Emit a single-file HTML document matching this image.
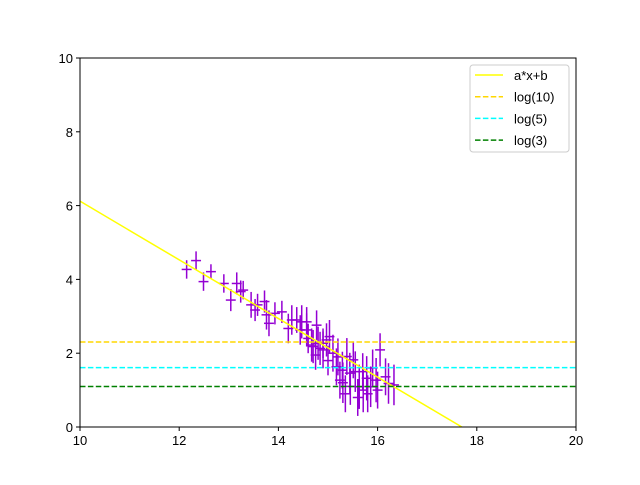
<!DOCTYPE html>
<html><head><meta charset="utf-8"><style>
body{margin:0;background:#fff;}
svg text{font-family:"Liberation Sans","DejaVu Sans",sans-serif;font-size:13px;fill:#000;}
</style></head><body>
<svg id="chart" width="640" height="480" xmlns="http://www.w3.org/2000/svg">
<rect width="640" height="480" fill="#fff"/>
<g id="marks"></g>
<g id="axes"></g>
</svg>
<script>
const xTicks=[10,12,14,16,18,20];
const yTicks=[0,2,4,6,8,10];
const pointX=[12.15,12.34,12.49,12.64,12.9,13.04,13.16,13.24,13.29,13.45,13.53,13.58,13.72,13.76,13.81,13.93,14.07,14.2,14.27,14.37,14.44,14.47,14.57,14.57,14.6,14.67,14.7,14.75,14.77,14.8,14.84,14.9,14.9,14.97,15.0,15.03,15.1,15.17,15.2,15.24,15.29,15.3,15.35,15.38,15.44,15.45,15.51,15.55,15.6,15.63,15.7,15.71,15.78,15.8,15.86,15.9,15.97,16.0,16.05,16.16,16.22,16.33];
const pointY=[4.27,4.51,3.94,4.21,3.89,3.44,3.89,3.67,3.71,3.31,3.17,3.31,3.40,3.04,2.81,3.08,3.12,2.67,2.9,2.9,2.63,2.85,2.85,2.63,2.4,2.22,2.18,1.95,2.76,2.27,2.13,2.27,2.09,2.36,1.8,2.45,2.0,1.63,1.9,1.27,1.54,1.2,0.9,1.91,1.46,1.1,1.82,1.5,0.8,1.09,1.5,1.0,1.32,0.9,1.09,1.6,1.27,1.0,2.09,1.36,1.18,1.14];
const yErr=[0.25,0.25,0.25,0.2,0.25,0.3,0.3,0.3,0.25,0.35,0.3,0.3,0.3,0.4,0.35,0.3,0.3,0.4,0.4,0.35,0.4,0.45,0.4,0.45,0.4,0.45,0.45,0.4,0.4,0.45,0.45,0.4,0.5,0.45,0.4,0.45,0.5,0.5,0.5,0.5,0.5,0.55,0.5,0.5,0.55,0.5,0.5,0.55,0.5,0.6,0.5,0.6,0.6,0.5,0.55,0.5,0.6,0.5,0.45,0.5,0.55,0.55];
const xErr=0.1;
const fitA=-0.795, fitB=14.07;
const hLines=[{name:"log(10)",v:2.303,c:"#ffd700"},{name:"log(5)",v:1.609,c:"#00ffff"},{name:"log(3)",v:1.099,c:"#008000"}];
const X0=80,X1=576,Y0=427,Y1=58;
const sx=v=>X0+(v-10)/10*(X1-X0);
const sy=v=>Y0-(v-0)/10*(Y0-Y1);
const NS="http://www.w3.org/2000/svg";
const marks=document.getElementById('marks');
const axes=document.getElementById('axes');
function mk(tag,attrs,parent){const e=document.createElementNS(NS,tag);for(const k in attrs)e.setAttribute(k,attrs[k]);parent.appendChild(e);return e;}
const clip=mk('clipPath',{id:'cp'},marks);mk('rect',{x:X0,y:Y1,width:X1-X0,height:Y0-Y1},clip);
const plot=mk('g',{'clip-path':'url(#cp)'},marks);
// error bars
pointX.forEach((x,i)=>{
  const g=mk('g',{stroke:'#9400d3','stroke-width':1.5},plot);
  
  
  mk('line',{x1:sx(x),x2:sx(x),y1:sy(pointY[i]-yErr[i]),y2:sy(pointY[i]+yErr[i])},g);
  mk('line',{x1:sx(x-xErr),x2:sx(x+xErr),y1:sy(pointY[i]),y2:sy(pointY[i])},g);
});
// fit line
const fl=mk('line',{x1:sx(10),y1:sy(fitA*10+fitB),x2:sx(20),y2:sy(fitA*20+fitB),stroke:'#ffff00','stroke-width':1.5},plot);


hLines.forEach(h=>{
  const l=mk('line',{x1:X0,x2:X1,y1:sy(h.v),y2:sy(h.v),stroke:h.c,'stroke-width':1.5,'stroke-dasharray':'5.5,2.4'},plot);
  
  
});
// axes frame
const fr=mk('rect',{x:X0,y:Y1,width:X1-X0,height:Y0-Y1,fill:'none',stroke:'#000','stroke-width':1},axes);


xTicks.forEach(t=>{
  mk('line',{x1:sx(t),x2:sx(t),y1:Y0,y2:Y0+4,stroke:'#000'},axes);
  const tx=mk('text',{x:sx(t),y:Y0+18,'text-anchor':'middle'},axes);tx.textContent=t;
  
  
});
yTicks.forEach(t=>{
  mk('line',{x1:X0-4,x2:X0,y1:sy(t),y2:sy(t),stroke:'#000'},axes);
  const tx=mk('text',{x:X0-7,y:sy(t)+5,'text-anchor':'end'},axes);tx.textContent=t;
  
  
});
// legend
const lg=mk('g',{},axes);


mk('rect',{x:470,y:65,width:99,height:87,rx:3,fill:'#fff',stroke:'#ccc'},lg);
const entries=[{name:"a*x+b",c:"#ffff00",d:null}].concat(hLines.map(h=>({name:h.name,c:h.c,d:'5.5,2.4'})));
entries.forEach((e,i)=>{
  const y=75+i*21.7;
  const g=mk('g',{},lg);
  
  
  const a={x1:475,x2:503,y1:y,y2:y,stroke:e.c,'stroke-width':1.5};if(e.d)a['stroke-dasharray']=e.d;
  mk('line',a,g);
  const t=mk('text',{x:514,y:y+5},g);t.textContent=e.name;
});
</script>
</body></html>
